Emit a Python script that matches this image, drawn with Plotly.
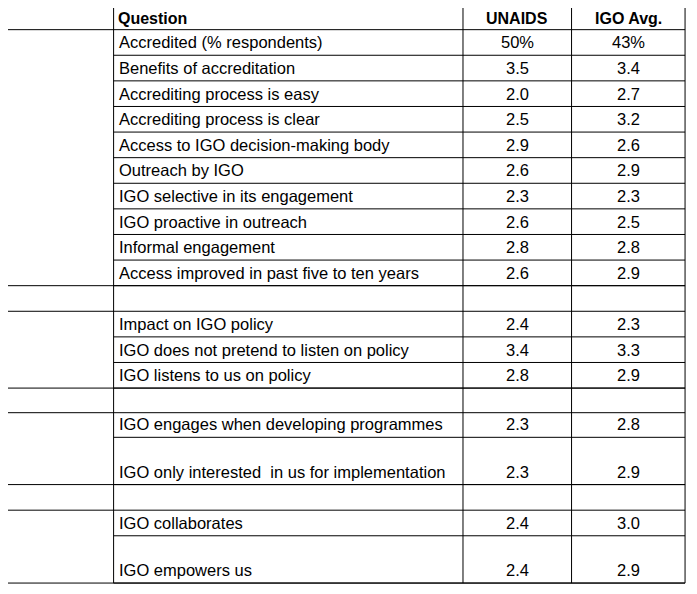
import plotly.graph_objects as go

headers = ["Dimension", "Question", "UNAIDS", "IGO Avg."]
dimensions = ["Access to<br>IGO's<br>decision-<br>making body", "Engaging in<br>policy<br>dialogue",
              "Engaging in<br>programme<br>development", "IGO<br>empowering<br>civil society"]
questions = [
    ["Accredited (% respondents)", "Benefits of accreditation", "Accrediting process is easy",
     "Accrediting process is clear", "Access to IGO decision-making body", "Outreach by IGO",
     "IGO selective in its engagement", "IGO proactive in outreach", "Informal engagement",
     "Access improved in past five to ten years"],
    ["Impact on IGO policy", "IGO does not pretend to listen on policy", "IGO listens to us on policy"],
    ["IGO engages when developing programmes", "IGO only interested  in us for implementation"],
    ["IGO collaborates", "IGO empowers us"],
]
unaids = [["50%", "3.5", "2.0", "2.5", "2.9", "2.6", "2.3", "2.6", "2.8", "2.6"],
          ["2.4", "3.4", "2.8"], ["2.3", "2.3"], ["2.4", "2.4"]]
igo_avg = [["43%", "3.4", "2.7", "3.2", "2.6", "2.9", "2.3", "2.5", "2.8", "2.9"],
           ["2.3", "3.3", "2.9"], ["2.8", "2.9"], ["3.0", "2.9"]]
# row heights per group (pixels), blank spacer rows between groups
row_h = [[26] * 10, [26] * 3, [25, 48], [26, 48]]
blank_h = [26, 25, 26]

col_x = [3, 114, 468, 578, 693]
FONT = "Liberation Sans"
FS = 16.5
FS_DIM = 16

shapes, ann = [], []

def hline(y, x0, x1):
    shapes.append(dict(type="line", x0=x0, x1=x1, y0=y, y1=y, line=dict(color="black", width=1)))

def text(x, y, s, xanchor="left", yanchor="bottom", bold=False, size=FS):
    ann.append(dict(x=x, y=y, text=f"<b>{s}</b>" if bold else s, showarrow=False, xanchor=xanchor,
                    yanchor=yanchor, align="left", font=dict(family=FONT, size=size, color="black")))

top = 3
hline(top, col_x[0], col_x[4])
y = 29
for i, h in enumerate(headers):
    if i < 2:
        text(col_x[i] + 2, y - 1, h, bold=True, size=FS_DIM)
    else:
        text((col_x[i] + col_x[i + 1]) / 2, y - 1, h, xanchor="center", bold=True, size=FS_DIM)
hline(y, col_x[0], col_x[4])

for g in range(len(dimensions)):
    g_top = y
    ann.append(dict(x=col_x[0] + 2, y=g_top + 1, text="<b>" + dimensions[g] + "</b>", showarrow=False,
                    xanchor="left", yanchor="top", align="left",
                    font=dict(family=FONT, size=FS_DIM, color="black")))
    for q, u, a, h in zip(questions[g], unaids[g], igo_avg[g], row_h[g]):
        y += h
        text(col_x[1] + 3, y - 2, q)
        text((col_x[2] + col_x[3]) / 2, y - 2, u, xanchor="center")
        text((col_x[3] + col_x[4]) / 2, y - 2, a, xanchor="center")
        hline(y, col_x[1], col_x[4])
    hline(y, col_x[0], col_x[4])
    if g < len(blank_h):
        y += blank_h[g]
        hline(y, col_x[0], col_x[4])

for x in col_x:
    shapes.append(dict(type="line", x0=x, x1=x, y0=top, y1=y, line=dict(color="black", width=1)))

# page body has an 8px margin: shrink the figure and offset the ranges so page pixels match
fig = go.Figure()
fig.update_layout(
    width=681, height=578, margin=dict(l=0, r=0, t=0, b=0),
    paper_bgcolor="white", plot_bgcolor="white", showlegend=False,
    xaxis=dict(range=[7, 697], visible=False, fixedrange=True),
    yaxis=dict(range=[594, 7], visible=False, fixedrange=True),
    shapes=shapes, annotations=ann,
)
fig.write_html("out.html")
